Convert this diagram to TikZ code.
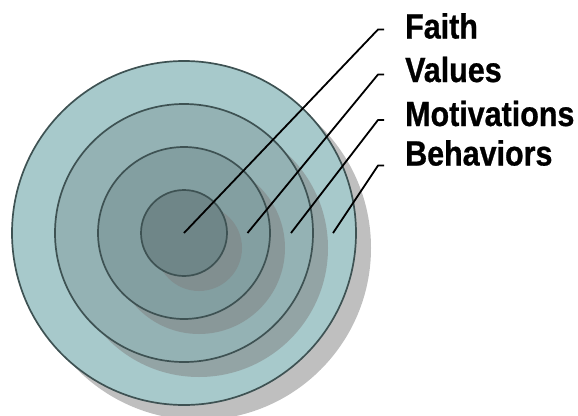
\documentclass[tikz,border=0pt]{standalone}
\usepackage{fontspec}
\newfontfamily\labfont[FakeStretch=0.87,FakeBold=0.8]{Liberation Sans}
\definecolor{ringA}{HTML}{A7C9CB}
\definecolor{ringB}{HTML}{94B2B4}
\definecolor{ringC}{HTML}{839FA1}
\definecolor{ringD}{HTML}{6F8688}
\definecolor{edge}{HTML}{3E5253}
\tikzset{
  ring/.style={circle, draw=edge, line width=1.7pt, inner sep=0pt, minimum size=#1},
  shade/.style={circle, fill=gray, fill opacity=0.5, inner sep=0pt, minimum size=#1},
  lab/.style={anchor=base west, inner sep=0pt, font=\labfont\bfseries\fontsize{35}{40}\selectfont},
  leader/.style={draw=black, line width=1.8pt, line join=round}
}
\begin{document}
\begin{tikzpicture}[x=1pt,y=-1pt]
\useasboundingbox (0,0) rectangle (578,415);
\coordinate (ctr) at (184,233);
\coordinate (sh) at (199,248);
% outer
\node[shade=344pt] (s1) at (sh) {};
\node[ring=344pt, fill=ringA] (c1) at (ctr) {};
\node[shade=258pt] (s2) at (sh) {};
\node[ring=258pt, fill=ringB] (c2) at (ctr) {};
\node[shade=172pt] (s3) at (sh) {};
\node[ring=172pt, fill=ringC] (c3) at (ctr) {};
\node[shade=86pt] (s4) at (sh) {};
\node[ring=86pt, fill=ringD] (c4) at (ctr) {};
% labels
\node[lab] (faith) at (405,38.5) {Faith};
\node[lab] (values) at (405,82) {Values};
\node[lab] (motiv) at (405,126) {Motivations};
\node[lab] (behav) at (405,165.5) {Behaviors};
% leader points
\coordinate (p1) at (184,233);
\coordinate (p2) at (247.5,233);
\coordinate (p3) at (291,233);
\coordinate (p4) at (333,233);
\coordinate (k1) at (378,29.5);
\coordinate (k2) at (378,74.5);
\coordinate (k3) at (378,120);
\coordinate (k4) at (378,165.5);
\coordinate (e1) at (384,29.5);
\coordinate (e2) at (384,74.5);
\coordinate (e3) at (384,120);
\coordinate (e4) at (384,165.5);
\draw[leader] (p1) -- (k1) -- (e1);
\draw[leader] (p2) -- (k2) -- (e2);
\draw[leader] (p3) -- (k3) -- (e3);
\draw[leader] (p4) -- (k4) -- (e4);
\end{tikzpicture}
\end{document}
